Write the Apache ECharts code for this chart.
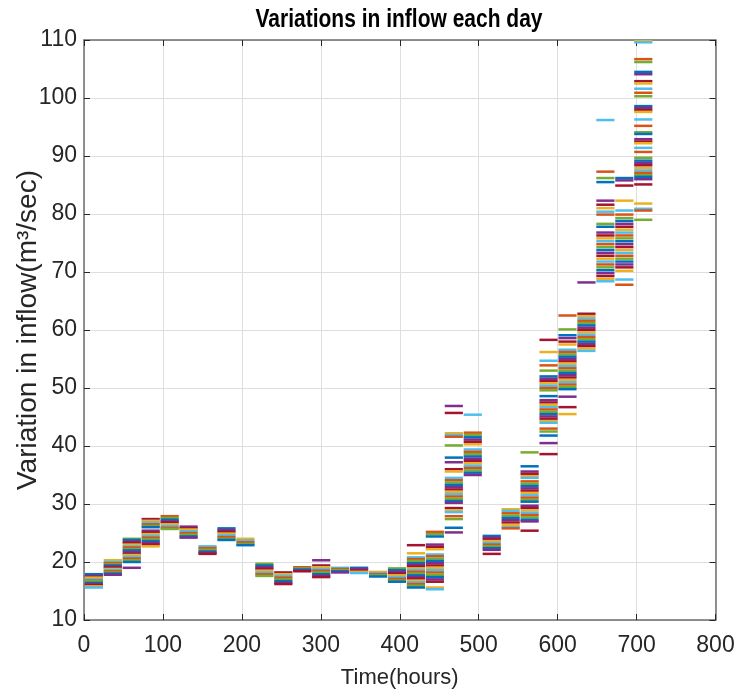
<!DOCTYPE html>
<html>
<head>
<meta charset="utf-8">
<script src="https://cdn.jsdelivr.net/npm/echarts@6/dist/echarts.min.js"></script>
<style>html,body{margin:0;padding:0;background:#fff}#c{width:735px;height:697px}</style>
</head>
<body>
<div id="c"></div>
<script>
// Axis ticks
const xTicks = [0, 100, 200, 300, 400, 500, 600, 700, 800];
const yTicks = [10, 20, 30, 40, 50, 60, 70, 80, 90, 100, 110];
const hoursPerDay = 24;

// Inflow values (m^3/sec) read per day, one entry per plotted line
const d00 = [17.9, 17.6, 17.4, 17.3, 17.0, 16.8, 16.7, 16.4, 16.2, 16.0, 15.8, 15.6];
const d01 = [20.3, 20.0, 19.8, 19.6, 19.4, 19.2, 19.0, 18.8, 18.6, 18.4, 18.2, 18.0, 17.8];
const d02 = [24.0, 23.8, 23.5, 23.3, 23.0, 22.7, 22.5, 22.2, 22.0, 21.7, 21.4, 21.2, 20.9, 20.6, 20.3, 20.0, 19.0];
const d03 = [27.4, 27.1, 26.8, 26.5, 26.2, 26.0, 25.4, 25.1, 24.8, 24.5, 24.2, 23.9, 23.6, 23.3, 23.0, 22.7];
const d04 = [27.9, 27.6, 27.3, 27.0, 26.8, 26.5, 26.2, 25.9, 25.7];
const d05 = [26.1, 25.8, 25.6, 25.3, 25.0, 24.7, 24.4, 24.2];
const d06 = [22.7, 22.4, 22.1, 21.8, 21.6, 21.4];
const d07 = [25.8, 25.5, 25.2, 24.9, 24.6, 24.3, 24.0, 23.8];
const d08 = [24.0, 23.7, 23.4, 23.1, 22.9];
const d09 = [19.7, 19.4, 19.1, 18.8, 18.5, 18.2, 17.9, 17.6];
const d10 = [18.2, 17.9, 17.6, 17.3, 17.0, 16.7, 16.4, 16.2];
const d11 = [19.1, 18.9, 18.7, 18.5, 18.4];
const d12 = [20.3, 19.4, 19.1, 18.8, 18.5, 18.2, 17.9, 17.6, 17.4];
const d13 = [19.0, 18.8, 18.6, 18.4, 18.2];
const d14 = [19.0, 18.8, 18.5, 18.3, 18.1];
const d15 = [18.3, 18.1, 17.9, 17.7, 17.5];
const d16 = [18.9, 18.6, 18.3, 18.0, 17.7, 17.4, 17.1, 16.8, 16.6];
const d17 = [22.9, 21.5, 20.8, 20.5, 20.2, 19.8, 19.5, 19.2, 18.9, 18.6, 18.3, 18.0, 17.7, 17.4, 17.1, 16.8, 16.5, 16.2, 15.9, 15.6];
const d18 = [25.2, 24.8, 24.4, 23.0, 22.6, 22.2, 21.3, 21.0, 20.6, 20.2, 19.8, 19.4, 19.0, 18.6, 18.2, 17.8, 17.4, 17.0, 16.6, 15.6, 15.3];
const d19 = [46.9, 45.7, 42.2, 41.9, 41.6, 40.1, 38.0, 37.2, 36.0, 35.6, 34.5, 34.1, 33.7, 33.3, 32.9, 32.5, 32.1, 31.7, 31.3, 30.9, 30.5, 30.2, 29.3, 28.9, 28.6, 27.9, 27.4, 25.9, 25.1];
const d20 = [45.4, 42.3, 41.9, 41.5, 41.1, 40.7, 40.3, 39.4, 39.0, 38.6, 38.2, 37.8, 37.4, 37.0, 36.6, 36.2, 35.8, 35.4, 35.0];
const d21 = [24.5, 24.2, 23.9, 23.6, 23.3, 23.0, 22.7, 22.4, 22.1, 21.4];
const d22 = [29.1, 28.8, 28.4, 28.0, 27.6, 27.2, 26.8, 26.4, 26.0, 25.8];
const d23 = [38.9, 36.5, 35.6, 35.2, 34.8, 34.5, 33.9, 33.5, 33.1, 32.7, 32.3, 31.9, 31.5, 31.1, 30.7, 30.4, 29.7, 29.3, 28.9, 28.5, 28.1, 27.7, 27.3, 27.0, 25.4];
const d24 = [58.3, 56.2, 54.7, 53.9, 53.0, 52.0, 51.6, 51.2, 50.8, 50.4, 50.0, 49.6, 48.6, 47.9, 47.5, 47.1, 46.7, 46.3, 45.9, 45.5, 45.1, 44.7, 44.3, 44.0, 43.0, 42.5, 41.8, 40.5, 38.6];
const d25 = [62.5, 60.1, 59.1, 58.6, 58.0, 57.5, 56.6, 56.2, 55.8, 55.4, 55.0, 54.6, 54.2, 53.8, 53.4, 53.0, 52.6, 52.2, 51.8, 51.4, 51.0, 50.6, 50.2, 49.8, 48.5, 46.7, 45.5];
const d26 = [68.2, 62.8, 62.4, 62.0, 61.6, 61.2, 60.8, 60.4, 60.0, 59.6, 59.2, 58.8, 58.4, 58.0, 57.6, 57.2, 56.8, 56.4];
const d27 = [96.2, 87.3, 86.2, 85.5, 82.3, 81.6, 81.0, 80.4, 79.9, 78.3, 77.8, 76.8, 76.3, 75.8, 75.3, 74.8, 74.3, 73.8, 73.3, 72.8, 72.3, 71.8, 71.3, 70.8, 70.3, 69.8, 69.3, 68.8, 68.4];
const d28 = [86.2, 85.8, 84.9, 82.3, 80.6, 79.9, 79.3, 78.8, 78.3, 77.8, 77.3, 76.8, 76.3, 75.8, 75.3, 74.8, 74.3, 73.8, 73.3, 72.8, 72.3, 71.8, 71.3, 70.8, 70.2, 68.7, 67.8];
const d29 = [109.9, 109.6, 106.7, 106.2, 104.5, 104.1, 102.9, 102.5, 101.6, 100.9, 100.3, 98.6, 98.3, 97.9, 97.6, 96.3, 95.2, 94.1, 93.8, 92.9, 92.5, 92.2, 91.4, 90.7, 89.7, 89.2, 88.8, 88.4, 87.9, 87.5, 87.1, 86.7, 86.4, 86.0, 85.1, 81.8, 80.9, 80.6, 79.0];

const days = [d00, d01, d02, d03, d04, d05, d06, d07, d08, d09, d10, d11, d12, d13, d14, d15, d16, d17, d18, d19, d20, d21, d22, d23, d24, d25, d26, d27, d28, d29];

const palette = ['#0072BD', '#D95319', '#EDB120', '#7E2F8E', '#77AC30', '#4DBEEE', '#A2142F'];

const data = [];
days.forEach((vals, d) => {
  vals.forEach((v, i) => {
    data.push([d * hoursPerDay + 1, v, d * hoursPerDay + hoursPerDay, (i * 3 + d * 2) % palette.length]);
  });
});

const FONT = '"Liberation Sans", Arial, sans-serif';
const axisColor = '#6e6e6e';
const textColor = '#262626';

const chart = echarts.init(document.getElementById('c'), null, {renderer: 'canvas'});
chart.setOption({
  animation: false,
  backgroundColor: '#ffffff',
  grid: {left: 84, right: 19.5, top: 40, bottom: 77, containLabel: false, outerBoundsMode: 'none'},
  graphic: [{
    type: 'text', x: 399, y: 20, scaleY: 1.2,
    style: {text: 'Variations in inflow each day', font: 'bold 21px ' + FONT, fill: '#000', textAlign: 'center', textVerticalAlign: 'middle'}
  }],
  xAxis: [{
    type: 'value', min: xTicks[0], max: xTicks[xTicks.length - 1], interval: 100, position: 'bottom',
    name: 'Time(hours)', nameLocation: 'middle', nameGap: 47, nameMoveOverlap: false,
    nameTextStyle: {fontFamily: FONT, fontSize: 22, color: textColor},
    axisLine: {show: true, onZero: false, lineStyle: {color: axisColor, width: 1.5}},
    axisTick: {show: true, inside: true, length: 6, lineStyle: {color: textColor, width: 1}},
    axisLabel: {fontFamily: FONT, fontSize: 23, color: textColor, margin: 14},
    splitLine: {show: true, lineStyle: {color: '#dedede', width: 1}}
  }, {
    type: 'value', min: xTicks[0], max: xTicks[xTicks.length - 1], interval: 100, position: 'top',
    axisLine: {show: true, onZero: false, lineStyle: {color: axisColor, width: 1.5}},
    axisTick: {show: true, inside: true, length: 6, lineStyle: {color: textColor, width: 1}},
    axisLabel: {show: false}, splitLine: {show: false}
  }],
  yAxis: [{
    type: 'value', min: yTicks[0], max: yTicks[yTicks.length - 1], interval: 10, position: 'left',
    name: 'Variation in inflow(m³/sec)', nameLocation: 'middle', nameGap: 42, nameRotate: 90, nameMoveOverlap: false,
    nameTextStyle: {fontFamily: FONT, fontSize: 28, color: textColor},
    axisLine: {show: true, onZero: false, lineStyle: {color: axisColor, width: 1.5}},
    axisTick: {show: true, inside: true, length: 6, lineStyle: {color: textColor, width: 1}},
    axisLabel: {fontFamily: FONT, fontSize: 23, color: textColor, margin: 7},
    splitLine: {show: true, lineStyle: {color: '#dedede', width: 1}}
  }, {
    type: 'value', min: yTicks[0], max: yTicks[yTicks.length - 1], interval: 10, position: 'right',
    axisLine: {show: true, onZero: false, lineStyle: {color: axisColor, width: 1.5}},
    axisTick: {show: true, inside: true, length: 6, lineStyle: {color: textColor, width: 1}},
    axisLabel: {show: false}, splitLine: {show: false}
  }],
  series: [{
    type: 'custom',
    xAxisIndex: 0, yAxisIndex: 0,
    clip: true,
    encode: {x: [0, 2], y: 1},
    data: data,
    renderItem: function (params, api) {
      const p1 = api.coord([api.value(0), api.value(1)]);
      const p2 = api.coord([api.value(2), api.value(1)]);
      return {
        type: 'line',
        shape: {x1: p1[0], y1: p1[1], x2: p2[0], y2: p2[1]},
        style: {stroke: palette[api.value(3)], lineWidth: 2.5}
      };
    }
  }]
});
</script>
</body>
</html>
